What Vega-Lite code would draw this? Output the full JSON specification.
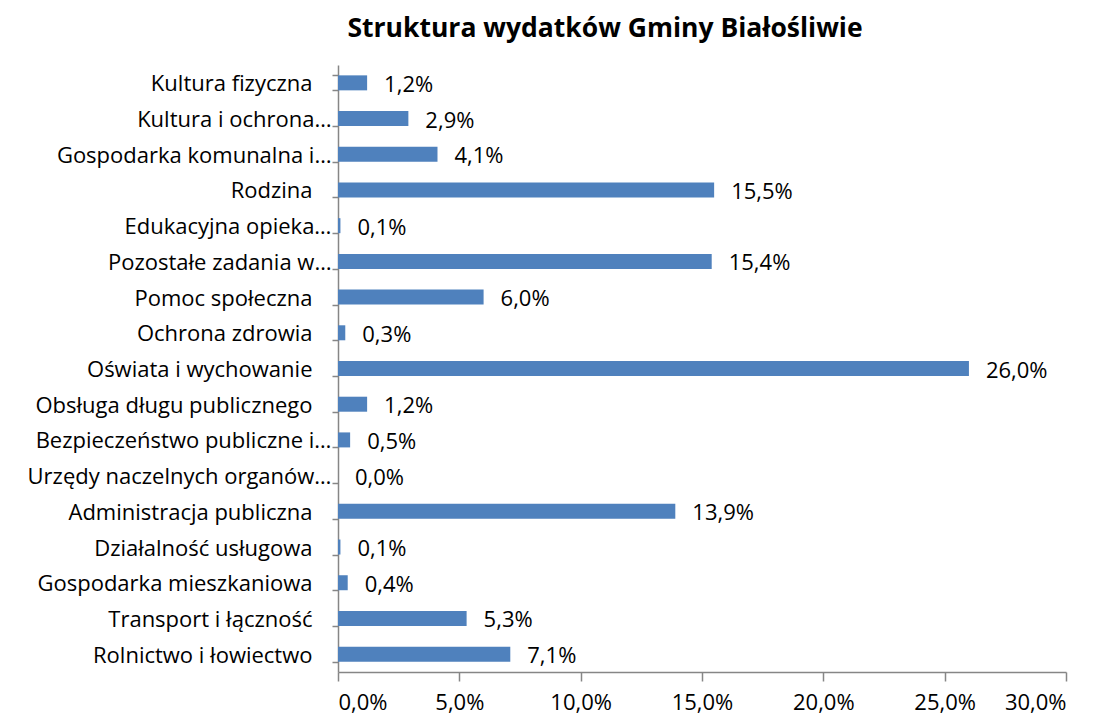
{
  "$schema": "https://vega.github.io/schema/vega-lite/v6.json",
  "autosize": "none",
  "padding": {"left": 338, "top": 65, "right": 34, "bottom": 46},
  "width": 728,
  "height": 607,
  "title": {
    "text": "Struktura wydatków Gminy Białośliwie",
    "font": "Open Sans",
    "fontSize": 26.5,
    "fontWeight": "bold",
    "color": "#000000",
    "anchor": "middle",
    "dx": -97,
    "offset": 12
  },
  "config": {
    "view": {"stroke": null},
    "locale": {"number": {"decimal": ",", "thousands": " ", "grouping": [3], "currency": ["", " zł"]}}
  },
  "data": {
    "values": [
      {"kategoria": "Kultura fizyczna", "udzial": 0.012},
      {"kategoria": "Kultura i ochrona…", "udzial": 0.029},
      {"kategoria": "Gospodarka komunalna i…", "udzial": 0.041},
      {"kategoria": "Rodzina", "udzial": 0.155},
      {"kategoria": "Edukacyjna opieka…", "udzial": 0.001},
      {"kategoria": "Pozostałe zadania w…", "udzial": 0.154},
      {"kategoria": "Pomoc społeczna", "udzial": 0.060},
      {"kategoria": "Ochrona zdrowia", "udzial": 0.003},
      {"kategoria": "Oświata i wychowanie", "udzial": 0.260},
      {"kategoria": "Obsługa długu publicznego", "udzial": 0.012},
      {"kategoria": "Bezpieczeństwo publiczne i…", "udzial": 0.005},
      {"kategoria": "Urzędy naczelnych organów…", "udzial": 0.0},
      {"kategoria": "Administracja publiczna", "udzial": 0.139},
      {"kategoria": "Działalność usługowa", "udzial": 0.001},
      {"kategoria": "Gospodarka mieszkaniowa", "udzial": 0.004},
      {"kategoria": "Transport i łączność", "udzial": 0.053},
      {"kategoria": "Rolnictwo i łowiectwo", "udzial": 0.071}
    ]
  },
  "encoding": {
    "y": {
      "field": "kategoria",
      "type": "nominal",
      "sort": null,
      "scale": {"paddingInner": 0.58, "paddingOuter": 0.29},
      "axis": {
        "title": null,
        "domainColor": "#868686",
        "domainWidth": 1.5,
        "tickColor": "#868686",
        "tickWidth": 1.5,
        "tickSize": 6,
        "tickBand": "extent",
        "labelFont": "Open Sans",
        "labelFontSize": 22,
        "labelColor": "#000000",
        "labelLimit": 400,
        "labelOffset": 1,
        "labelPadding": {"condition": {"test": "slice(datum.label, -1) == '…'", "value": 1}, "value": 20}
      }
    },
    "x": {
      "field": "udzial",
      "type": "quantitative",
      "scale": {"domain": [0, 0.3], "nice": false},
      "axis": {
        "title": null,
        "format": ".1%",
        "values": [0, 0.05, 0.1, 0.15, 0.2, 0.25, 0.3],
        "grid": false,
        "domainColor": "#868686",
        "domainWidth": 1.5,
        "tickColor": "#868686",
        "tickWidth": 1.5,
        "tickSize": 9,
        "labelFont": "Open Sans",
        "labelFontSize": 22,
        "labelColor": "#000000",
        "labelPadding": 11
      }
    }
  },
  "layer": [
    {"mark": {"type": "bar", "color": "#4F81BD"}},
    {
      "mark": {"type": "text", "align": "left", "baseline": "middle", "dx": 17, "dy": 2, "font": "Open Sans", "fontSize": 22, "color": "#000000"},
      "encoding": {"text": {"field": "udzial", "type": "quantitative", "format": ".1%"}}
    }
  ]
}
